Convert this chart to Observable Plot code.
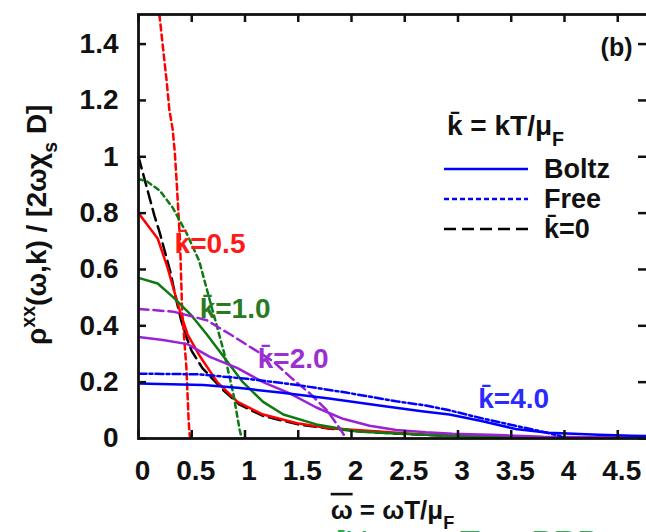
<!DOCTYPE html>
<html>
<head>
<meta charset="utf-8">
<script src="https://cdn.jsdelivr.net/npm/d3@7"></script>
<script src="https://cdn.jsdelivr.net/npm/@observablehq/plot@0.6"></script>
<style>
  html, body { margin: 0; padding: 0; background: white; }
</style>
</head>
<body>
<div id="chart"></div>
<script>
// ---- data ----
const xTicks = [0, 0.5, 1, 1.5, 2, 2.5, 3, 3.5, 4, 4.5];
const yTicks = [0, 0.2, 0.4, 0.6, 0.8, 1, 1.2, 1.4];

const k0_omega = [0, 0.05, 0.1, 0.15, 0.2, 0.25, 0.3, 0.35, 0.4, 0.45, 0.5, 0.6, 0.7, 0.8, 0.95, 1.17, 1.5, 1.8, 2.2, 2.6, 3.0, 3.5, 4.0, 4.78];
const k0_rho   = [1.0, 0.93, 0.86, 0.79, 0.73, 0.66, 0.59, 0.50, 0.42, 0.36, 0.31, 0.25, 0.21, 0.17, 0.12, 0.08, 0.05, 0.035, 0.022, 0.014, 0.009, 0.005, 0.003, 0.001];

const boltz05_omega = [0, 0.1, 0.18, 0.27, 0.33, 0.39, 0.46, 0.58, 0.74, 0.93, 1.17, 1.49, 1.79, 2.26, 2.66, 3.1, 3.6, 4.2, 4.78];
const boltz05_rho   = [0.80, 0.75, 0.71, 0.61, 0.53, 0.45, 0.37, 0.29, 0.20, 0.13, 0.085, 0.054, 0.036, 0.025, 0.014, 0.009, 0.005, 0.003, 0.002];
const free05_omega  = [0.19, 0.198, 0.207, 0.226, 0.264, 0.29, 0.32, 0.34, 0.36, 0.39, 0.41, 0.45, 0.47, 0.48, 0.486];
const free05_rho    = [1.54, 1.497, 1.468, 1.40, 1.27, 1.165, 1.10, 1.02, 0.90, 0.70, 0.45, 0.25, 0.07, 0.014, 0];

const boltz10_omega = [0, 0.18, 0.33, 0.49, 0.64, 0.80, 0.98, 1.17, 1.36, 1.67, 2.05, 2.42, 2.9, 3.5, 4.2, 4.78];
const boltz10_rho   = [0.57, 0.55, 0.50, 0.44, 0.37, 0.29, 0.20, 0.13, 0.085, 0.05, 0.025, 0.018, 0.01, 0.005, 0.003, 0.002];
const free10_omega  = [0, 0.07, 0.2, 0.32, 0.45, 0.57, 0.67, 0.80, 0.89, 0.95, 0.97];
const free10_rho    = [0.92, 0.915, 0.88, 0.82, 0.73, 0.63, 0.49, 0.31, 0.16, 0.03, 0];

const boltz20_omega = [0, 0.23, 0.46, 0.67, 0.93, 1.17, 1.42, 1.67, 1.92, 2.17, 2.42, 2.7, 2.95, 3.38, 3.8, 4.3, 4.78];
const boltz20_rho   = [0.36, 0.35, 0.335, 0.29, 0.25, 0.20, 0.16, 0.11, 0.07, 0.045, 0.03, 0.022, 0.017, 0.012, 0.006, 0.004, 0.003];
const free20_omega  = [0, 0.33, 0.64, 0.86, 1.07, 1.26, 1.45, 1.61, 1.77, 1.89, 1.95];
const free20_rho    = [0.46, 0.45, 0.42, 0.37, 0.32, 0.275, 0.21, 0.16, 0.10, 0.036, 0];

const boltz40_omega = [0, 0.3, 0.61, 0.93, 1.33, 1.79, 2.26, 2.66, 2.92, 3.22, 3.54, 3.85, 4.32, 4.63, 4.78];
const boltz40_rho   = [0.195, 0.193, 0.19, 0.18, 0.163, 0.142, 0.117, 0.097, 0.085, 0.062, 0.034, 0.02, 0.013, 0.01, 0.009];
const free40_omega  = [0, 0.55, 1.02, 1.49, 1.95, 2.42, 2.70, 2.92, 3.22, 3.54, 3.76, 3.95, 4.0];
const free40_rho    = [0.23, 0.228, 0.212, 0.19, 0.163, 0.132, 0.117, 0.10, 0.072, 0.045, 0.027, 0.01, 0];

const seriesNames  = ["k0", "boltz05", "free05", "boltz10", "free10", "boltz20", "free20", "boltz40", "free40"];
const seriesOmega  = [k0_omega, boltz05_omega, free05_omega, boltz10_omega, free10_omega, boltz20_omega, free20_omega, boltz40_omega, free40_omega];
const seriesRho    = [k0_rho, boltz05_rho, free05_rho, boltz10_rho, free10_rho, boltz20_rho, free20_rho, boltz40_rho, free40_rho];
const seriesColor  = ["#000000", "#ff0000", "#ff0000", "#0d7a12", "#0d7a12", "#9a22d6", "#9a22d6", "#0000ff", "#0000ff"];
const seriesDash   = ["12,6", null, "6,4", null, "5,4", null, "10,5", null, "8,3,3,3"];

// {-x} = overbar, {^x} = superscript, {_x} = subscript
const KBAR = "k\u0304";
const curveLabels  = [KBAR + "=0.5", KBAR + "=1.0", KBAR + "=2.0", KBAR + "=4.0"];
const curveLabelX  = [0.339, 0.574, 1.12, 3.19];
const curveLabelY  = [0.691, 0.46, 0.281, 0.139];
const curveLabelC  = ["#ff1a1a", "#2a7a22", "#9b30d0", "#2a2aff"];

const legendLabels = ["Boltz", "Free", KBAR + "=0"];
const legendColors = ["#0000ff", "#0000ff", "#000000"];
const legendDash   = [null, "5,3", "12,6"];
const legendTitle  = KBAR + " = kT/\u03bc{_F}";

const xLabel = "{-\u03c9} = \u03c9T/\u03bc{_F}";
const yLabel = "\u03c1{^xx}(\u03c9,k) / [2\u03c9\u03c7{_s} D]";
const panelTag = "(b)";
const sourceNote = "[Huang, Tao, PRB";

// ---- build table ----
const rows = [];
seriesNames.forEach((name, i) => {
  seriesOmega[i].forEach((w, j) => rows.push({series: name, omega: w, rho: seriesRho[i][j]}));
});
const labelRows = curveLabels.map((t, i) => ({text: t, x: curveLabelX[i], y: curveLabelY[i], color: curveLabelC[i]}));

const W = 646, H = 532;
const mL = 138, mR = 0, mT = 14, mB = 94;
const innerW = W - mL - mR, innerH = H - mT - mB;
const tickLen = 8;
const FONT = "'Liberation Sans', Arial, Helvetica, sans-serif";
const fmt = d => String(Math.round(d * 10) / 10);

const lineMarks = seriesNames.map((name, i) =>
  Plot.line(rows.filter(r => r.series === name), {
    x: "omega", y: "rho",
    stroke: seriesColor[i], strokeWidth: 2.5,
    strokeDasharray: seriesDash[i] || undefined,
    clip: true
  })
);

// legend + rotated y-axis title, laid out relative to the frame
function overlayMark(index, scales, values, dims) {
  const g = d3.create("svg:g").attr("text-anchor", "start");
  const x0 = dims.marginLeft + 306, x1 = dims.marginLeft + 390, xt = dims.marginLeft + 406;
  g.append("text").attr("x", dims.marginLeft + 309).attr("y", dims.marginTop + 121)
    .attr("font-size", 28).attr("fill", "#111").text(legendTitle);
  legendLabels.forEach((lab, i) => {
    const yb = dims.marginTop + 164 + 30 * i;
    g.append("line").attr("x1", x0).attr("x2", x1).attr("y1", yb - 9).attr("y2", yb - 9)
      .attr("stroke", legendColors[i]).attr("stroke-width", 2.5)
      .attr("stroke-dasharray", legendDash[i]);
    g.append("text").attr("x", xt).attr("y", yb).attr("font-size", 27).attr("fill", "#111").text(lab);
  });
  // title starts near the 0.3 level of the frame and runs upwards
  const startY = dims.height - dims.marginBottom - 93;
  g.append("text").attr("class", "ylab").attr("text-anchor", "start")
    .attr("transform", `translate(${dims.marginLeft - 92},${startY}) rotate(-90)`)
    .attr("font-size", 28).attr("fill", "#111").text(yLabel);
  return g.node();
}

const chart = Plot.plot({
  width: W, height: H,
  marginLeft: mL, marginRight: mR, marginTop: mT, marginBottom: mB,
  style: {fontFamily: FONT, fontSize: "28px", fontWeight: "bold", background: "white", color: "#111"},
  x: {domain: [0, 4.77]},
  y: {domain: [0, 1.505]},
  marks: [
    ...lineMarks,
    Plot.tickY(yTicks, {y: d => d, insetRight: innerW - tickLen, stroke: "#111", strokeWidth: 2.5}),
    Plot.tickY(yTicks, {y: d => d, insetLeft: innerW - tickLen, stroke: "#111", strokeWidth: 2.5}),
    Plot.tickX(xTicks, {x: d => d, insetTop: innerH - tickLen, stroke: "#111", strokeWidth: 2.5}),
    Plot.tickX(xTicks, {x: d => d, insetBottom: innerH - tickLen, stroke: "#111", strokeWidth: 2.5}),
    Plot.frame({stroke: "#111", strokeWidth: 2.8, insetRight: -3}),
    Plot.axisX({ticks: xTicks, tickFormat: fmt, tickSize: 0, tickPadding: 22, dx: 4, label: null, fontSize: 28, fill: "#111"}),
    Plot.axisY({ticks: yTicks, tickFormat: fmt, tickSize: 0, tickPadding: 20, label: null, fontSize: 28, fill: "#111"}),
    Plot.text(labelRows, {x: "x", y: "y", text: "text", fill: "color", textAnchor: "start", lineAnchor: "middle", fontSize: 28}),
    Plot.text([panelTag], {frameAnchor: "top-right", dx: -14, dy: 33, textAnchor: "end", lineAnchor: "middle", fontSize: 25, fill: "#111"}),
    Plot.text([xLabel], {frameAnchor: "bottom", dx: 0, dy: 72, textAnchor: "middle", lineAnchor: "middle", fontSize: 26, fill: "#111"}),
    Plot.text([sourceNote], {frameAnchor: "bottom-left", dx: 197, dy: 92, textAnchor: "start", lineAnchor: "top", fontSize: 33, fontWeight: "normal", fill: "#22b24a"}),
    overlayMark
  ]
});

document.getElementById("chart").appendChild(chart);

// rich text without relative glyph shifts
function richify(svg) {
  const ns = "http://www.w3.org/2000/svg";
  svg.querySelectorAll("text").forEach(t => {
    const s = t.textContent;
    if (!/\{[\^_\-]/.test(s)) return;
    const parts = [];
    const re = /\{([\^_\-])([^}]*)\}/g;
    let last = 0, m;
    while ((m = re.exec(s))) {
      if (m.index > last) parts.push({t: s.slice(last, m.index), k: ""});
      parts.push({t: m[2], k: m[1]});
      last = re.lastIndex;
    }
    if (last < s.length) parts.push({t: s.slice(last), k: ""});
    while (t.firstChild) t.removeChild(t.firstChild);
    parts.forEach(p => {
      const ts = document.createElementNS(ns, "tspan");
      if (p.k === "^") { ts.setAttribute("baseline-shift", "super"); ts.setAttribute("font-size", "70%"); }
      if (p.k === "_") { ts.setAttribute("baseline-shift", "sub"); ts.setAttribute("font-size", "70%"); }
      if (p.k === "-") { ts.setAttribute("text-decoration", "overline"); }
      ts.textContent = p.t;
      t.appendChild(ts);
    });
  });
}
richify(chart);
</script>
</body>
</html>
